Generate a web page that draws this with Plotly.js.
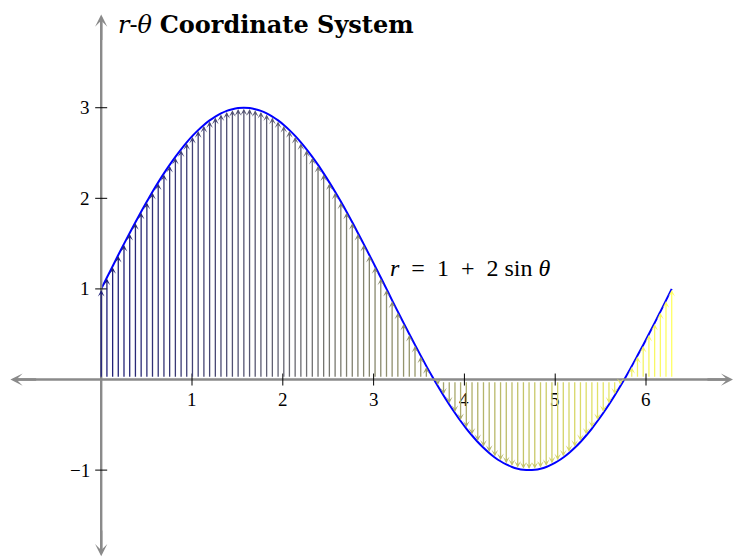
<!DOCTYPE html>
<html>
<head>
<meta charset="utf-8">
<script src="https://cdn.plot.ly/plotly-3.0.1.min.js"></script>
<style>
  html, body { margin: 0; padding: 0; background: #ffffff; }
  #plot { width: 733px; height: 559px; }
</style>
</head>
<body>
<div id="plot"></div>
<script>
// Sample angles (radians) along one full turn, 0 .. 2π
const theta = [
  0.000, 0.063, 0.126, 0.188, 0.251, 0.314, 0.377, 0.440, 0.503, 0.565,
  0.628, 0.691, 0.754, 0.817, 0.880, 0.942, 1.005, 1.068, 1.131, 1.194,
  1.257, 1.319, 1.382, 1.445, 1.508, 1.571, 1.634, 1.696, 1.759, 1.822,
  1.885, 1.948, 2.011, 2.073, 2.136, 2.199, 2.262, 2.325, 2.388, 2.450,
  2.513, 2.576, 2.639, 2.702, 2.765, 2.827, 2.890, 2.953, 3.016, 3.079,
  3.142, 3.204, 3.267, 3.330, 3.393, 3.456, 3.519, 3.581, 3.644, 3.707,
  3.770, 3.833, 3.896, 3.958, 4.021, 4.084, 4.147, 4.210, 4.273, 4.335,
  4.398, 4.461, 4.524, 4.587, 4.650, 4.712, 4.775, 4.838, 4.901, 4.964,
  5.027, 5.089, 5.152, 5.215, 5.278, 5.341, 5.404, 5.466, 5.529, 5.592,
  5.655, 5.718, 5.781, 5.843, 5.906, 5.969, 6.032, 6.095, 6.158, 6.220,
  6.283
];

// r value at each sample angle
const radius = [
  1.000, 1.126, 1.251, 1.375, 1.497, 1.618, 1.736, 1.852, 1.964, 2.072,
  2.176, 2.275, 2.369, 2.458, 2.541, 2.618, 2.689, 2.753, 2.810, 2.860,
  2.902, 2.937, 2.965, 2.984, 2.996, 3.000, 2.996, 2.984, 2.965, 2.937,
  2.902, 2.860, 2.810, 2.753, 2.689, 2.618, 2.541, 2.458, 2.369, 2.275,
  2.176, 2.072, 1.964, 1.852, 1.736, 1.618, 1.497, 1.375, 1.251, 1.126,
  1.000, 0.874, 0.749, 0.625, 0.503, 0.382, 0.264, 0.148, 0.036, -0.072,
  -0.176, -0.275, -0.369, -0.458, -0.541, -0.618, -0.689, -0.753, -0.810, -0.860,
  -0.902, -0.937, -0.965, -0.984, -0.996, -1.000, -0.996, -0.984, -0.965, -0.937,
  -0.902, -0.860, -0.810, -0.753, -0.689, -0.618, -0.541, -0.458, -0.369, -0.275,
  -0.176, -0.072, 0.036, 0.148, 0.264, 0.382, 0.503, 0.625, 0.749, 0.874,
  1.000
];

const xTickValues = [1, 2, 3, 4, 5, 6];
const xTickLabels = ['1', '2', '3', '4', '5', '6'];
const yTickValues = [-1, 1, 2, 3];
const yTickLabels = ['\u22121', '1', '2', '3'];

const titleText = '<i>r</i>-<i>\u03b8</i> <b>Coordinate System</b>';
const curveLabel = '<i>r</i>\u2002=\u20021\u2002+\u20022 sin <i>\u03b8</i>';

// Axis extents (data units) where the axis arrows end
const xAxisEnds = [-1.0, 6.96];
const yAxisEnds = [-1.95, 4.03];

// Arrow colour fades from navy to yellow along θ
const colorStart = [28, 28, 120];
const colorEnd = [255, 255, 100];
function fade(t) {
  const c = colorStart.map((v, i) => Math.round(v + (colorEnd[i] - v) * t));
  return 'rgb(' + c.join(',') + ')';
}

const axisGray = '#8a8a8a';
const serif = '"Liberation Serif", "Times New Roman", serif';
const wideSerif = '"DejaVu Serif", serif';

const annotations = [];

// tick labels (drawn first so the arrows sit over them)
xTickValues.forEach((v, i) => annotations.push({
  x: v, y: 0, xref: 'x', yref: 'y', text: xTickLabels[i], showarrow: false,
  yanchor: 'top', yshift: -7, font: { family: serif, size: 19, color: '#000' }
}));
yTickValues.forEach((v, i) => annotations.push({
  x: 0, y: v, xref: 'x', yref: 'y', text: yTickLabels[i], showarrow: false,
  xanchor: 'right', xshift: -9, font: { family: serif, size: 19, color: '#000' }
}));

// one arrow per sample, from the θ axis up (or down) to the curve
const n = theta.length;
for (let k = 0; k < n; k++) {
  annotations.push({
    x: theta[k], y: radius[k], ax: theta[k], ay: 0,
    xref: 'x', yref: 'y', axref: 'x', ayref: 'y',
    text: '', showarrow: true,
    arrowhead: 3, arrowsize: 0.85, arrowwidth: 1.3,
    arrowcolor: fade(k / (n - 1)),
    standoff: 1, startstandoff: 1.2
  });
}

// axis arrow heads
function axisHead(x, y, ax, ay) {
  return {
    x: x, y: y, ax: ax, ay: ay, xref: 'x', yref: 'y', axref: 'x', ayref: 'y',
    text: '', showarrow: true, arrowhead: 3, arrowsize: 0.85, arrowwidth: 2.4,
    arrowcolor: axisGray, standoff: 0
  };
}
annotations.push(axisHead(xAxisEnds[1], 0, xAxisEnds[1] - 0.3, 0));
annotations.push(axisHead(xAxisEnds[0], 0, xAxisEnds[0] + 0.3, 0));
annotations.push(axisHead(0, yAxisEnds[1], 0, yAxisEnds[1] - 0.3));
annotations.push(axisHead(0, yAxisEnds[0], 0, yAxisEnds[0] + 0.3));

annotations.push({
  x: 116 / 733, y: 1 - 25 / 559, xref: 'paper', yref: 'paper',
  xanchor: 'left', yanchor: 'middle', showarrow: false, text: titleText,
  font: { family: wideSerif, size: 24, color: '#000' }
});
annotations.push({
  x: 3.16, y: 1.236, xref: 'x', yref: 'y',
  xanchor: 'left', yanchor: 'middle', showarrow: false, text: curveLabel,
  font: { family: serif, size: 24, color: '#000' }
});

const shapes = [
  { type: 'line', xref: 'x', yref: 'y', x0: xAxisEnds[0] + 0.05, x1: xAxisEnds[1] - 0.05, y0: 0, y1: 0,
    line: { color: axisGray, width: 2.4 }, layer: 'above' },
  { type: 'line', xref: 'x', yref: 'y', x0: 0, x1: 0, y0: yAxisEnds[0] + 0.05, y1: yAxisEnds[1] - 0.05,
    line: { color: axisGray, width: 2.4 }, layer: 'above' }
];
xTickValues.forEach(v => shapes.push({
  type: 'line', xref: 'x', yref: 'y', ysizemode: 'pixel', yanchor: 0,
  x0: v, x1: v, y0: -6, y1: 6, line: { color: '#000', width: 1 }, layer: 'above'
}));
yTickValues.forEach(v => shapes.push({
  type: 'line', xref: 'x', yref: 'y', xsizemode: 'pixel', xanchor: 0,
  y0: v, y1: v, x0: -6, x1: 6, line: { color: '#000', width: 1 }, layer: 'above'
}));

const curve = {
  x: theta, y: radius, type: 'scatter', mode: 'lines',
  line: { color: '#0000ff', width: 2, shape: 'spline' },
  hoverinfo: 'skip'
};

const layout = {
  width: 733, height: 559,
  margin: { l: 0, r: 0, t: 0, b: 0 },
  paper_bgcolor: '#ffffff', plot_bgcolor: '#ffffff',
  showlegend: false,
  xaxis: { range: [-1.1145, 6.958], visible: false, fixedrange: true },
  yaxis: { range: [-1.981, 4.189], visible: false, fixedrange: true },
  annotations: annotations,
  shapes: shapes
};

Plotly.newPlot('plot', [curve], layout, { staticPlot: true, displayModeBar: false });
</script>
</body>
</html>
